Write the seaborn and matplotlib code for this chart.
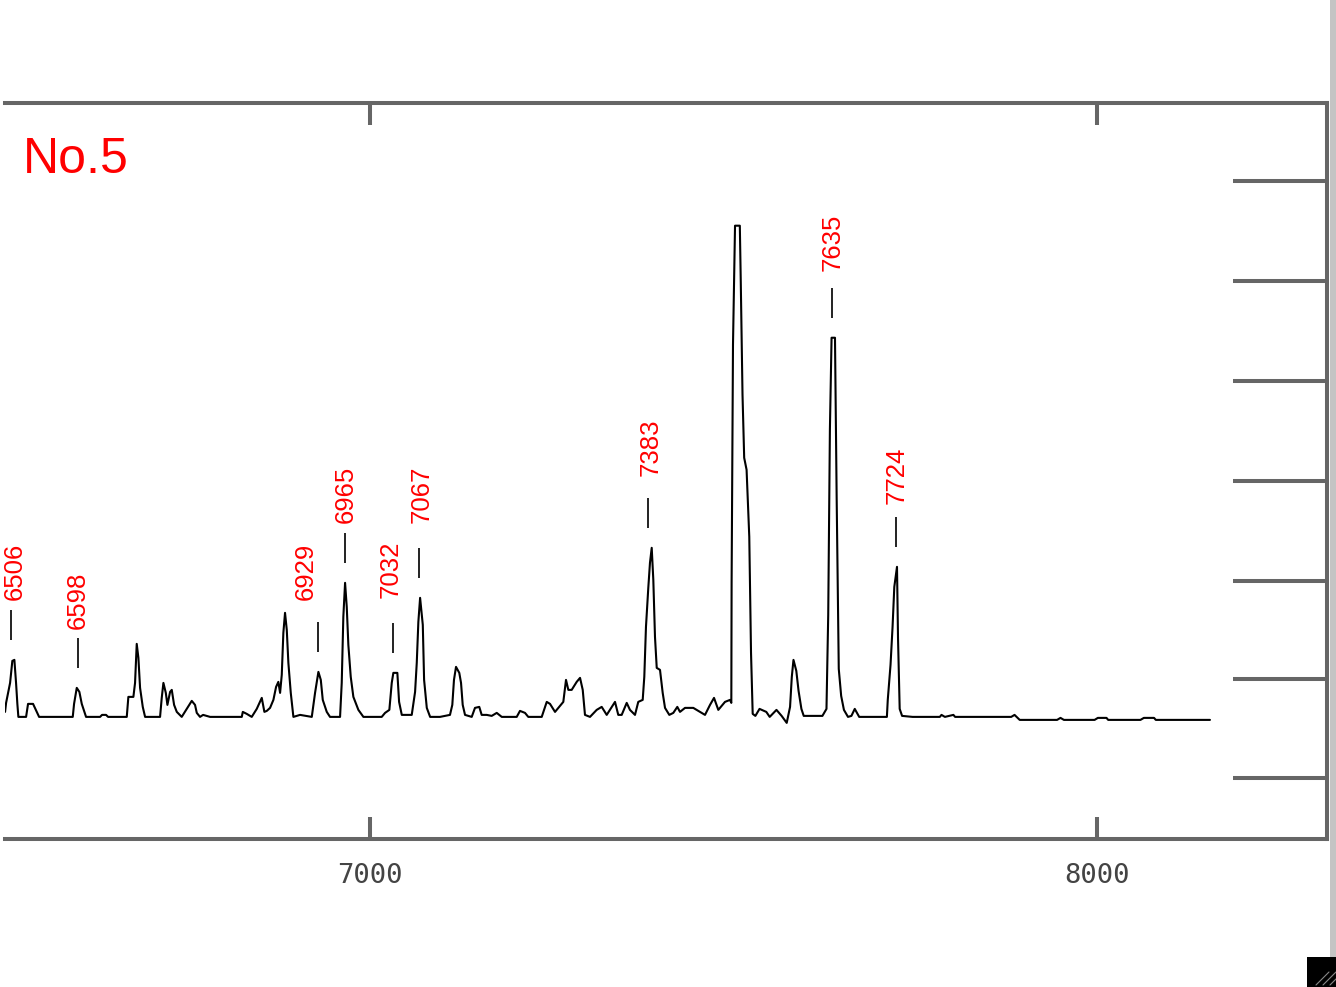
import pandas as pd
import seaborn as sns
import matplotlib.pyplot as plt
from matplotlib.patches import Rectangle
from matplotlib.lines import Line2D

# spectrum trace (mass, intensity in a.u.)
mass = [
    6498, 6499.4, 6504.9, 6508, 6510.8, 6513.1, 6514.9, 6516.3, 6526.9, 6529.6,
    6536.5, 6544.8, 6591.1, 6592.9, 6596.6, 6600.2, 6603.5, 6609.4, 6628.7, 6631.4,
    6636.9, 6639.7, 6665.4, 6667.6, 6674.5, 6676.8, 6679.1, 6681.4, 6683.7, 6687.4,
    6690.6, 6711.2, 6713.5, 6715.8, 6719.1, 6721.3, 6725, 6727.3, 6730.5, 6734.2,
    6741, 6747.9, 6754.8, 6759.3, 6761.7, 6766.2, 6770.4, 6780, 6823.6, 6825,
    6830.5, 6837.3, 6844.2, 6851.1, 6854.7, 6858, 6862.5, 6867.1, 6870.8, 6873.9,
    6876.3, 6878.6, 6880.8, 6883.1, 6885.5, 6887.7, 6891, 6894.6, 6903.8, 6919.9,
    6924.4, 6929, 6932.3, 6935, 6940.5, 6945, 6958.8, 6961.1, 6963.3, 6965.7,
    6968, 6970.2, 6973.5, 6977.1, 6984, 6990.9, 7016.1, 7020.7, 7026.6, 7029.9,
    7032.1, 7037.6, 7040, 7043.7, 7057.4, 7062, 7064.3, 7066.5, 7068.9, 7072.6,
    7074.4, 7078.1, 7082.7, 7096.3, 7110.0, 7113.2, 7115.5, 7118.3, 7122.8, 7125.2,
    7127.5, 7130.7, 7139.9, 7144.4, 7150.3, 7153.6, 7160.5, 7167.4, 7174.3, 7181.2,
    7201.8, 7206.3, 7213.2, 7217.7, 7236.2, 7243.1, 7247.6, 7254.5, 7265.9, 7269.6,
    7272.8, 7277.4, 7284.3, 7288.9, 7292.6, 7295.7, 7302.6, 7311.8, 7318.7, 7325.6,
    7337.0, 7341.5, 7346.2, 7353.1, 7357.6, 7364.5, 7369.0, 7375.1, 7377.3, 7379.6,
    7382.8, 7385.1, 7387.5, 7389.7, 7392.0, 7394.4, 7398.9, 7402.6, 7405.8, 7411.7,
    7417.2, 7422.7, 7426.4, 7433.3, 7444.7, 7453.9, 7460.8, 7467.7, 7473.2, 7479.1,
    7488.3, 7495.2, 7497.0, 7497.4, 7499.3, 7502.1, 7508.7, 7510.0, 7512.4, 7514.7,
    7518.0, 7521.7, 7524.1, 7526.4, 7530.1, 7535.8, 7545.1, 7549.8, 7559.1, 7566.2,
    7573.2, 7577.8, 7580.2, 7582.5, 7586.4, 7589.5, 7593.4, 7596.6, 7622.3, 7627.9,
    7630.3, 7632.6, 7634.9, 7639.6, 7641.9, 7644.8, 7648.1, 7651.9, 7657.5, 7662.2,
    7666.8, 7672.9, 7711.0, 7712.2, 7716.0, 7718.8, 7721.2, 7724.9, 7726.3, 7728.6,
    7731.9, 7746.3, 7783.8, 7786.1, 7790.8, 7802.5, 7804.8, 7882.0, 7886.6, 7893.7,
    7945.1, 7949.8, 7954.5, 7996.7, 8001.2, 8013.1, 8015.4, 8059.8, 8064.5, 8078.5,
    8080.9, 8155.4,
]
intensity = [
    5, 14, 34, 56, 57, 34, 13, 0, 0, 13,
    13, 0, 0, 13, 29, 25, 13, 0, 0, 2,
    2, 0, 0, 20, 20, 34, 73, 59, 29, 10,
    0, 0, 19, 34, 24, 12, 25, 27, 12, 5,
    0, 8, 16, 12, 4, 0, 2, 0, 0, 5,
    3, 0, 8, 19, 5, 6, 9, 17, 30, 35,
    24, 42, 84, 104, 87, 54, 24, 0, 2, 0,
    24, 45, 37, 17, 5, 0, 0, 34, 100, 134,
    110, 72, 40, 20, 7, 0, 0, 4, 7, 34,
    44, 44, 15, 2, 2, 25, 54, 95, 119, 92,
    37, 9, 0, 0, 2, 12, 37, 50, 44, 34,
    12, 2, 0, 9, 10, 2, 2, 1, 4, 0,
    0, 6, 4, 0, 0, 15, 13, 5, 15, 37,
    27, 27, 35, 39, 27, 2, 0, 7, 10, 2,
    15, 2, 2, 14, 7, 2, 15, 17, 40, 90,
    129, 154, 169, 137, 80, 49, 47, 24, 9, 2,
    4, 10, 5, 9, 9, 5, 2, 12, 19, 7,
    15, 17, 14, 134, 372, 491, 491, 435, 322, 259,
    247, 180, 64, 3, 1, 8, 5, 0, 7, 1,
    -6, 10, 40, 57, 46, 26, 8, 1, 1, 8,
    102, 287, 379, 379, 219, 48, 21, 7, 0, 1,
    8, 0, 0, 17, 52, 90, 130, 150, 79, 8,
    1, 0, 0, 2, 0, 2, 0, 0, 2, -3,
    -3, -1, -3, -3, -1, -1, -3, -3, -1, -1,
    -3, -3,
]

# labelled peaks
peak_labels = ["6506", "6598", "6929", "6965", "7032", "7067", "7383", "7635", "7724"]
peak_mass = [6506, 6598, 6929, 6965, 7032, 7067, 7383, 7635, 7724]
peak_height = [57, 29, 45, 134, 44, 119, 169, 379, 150]
label_x = [6511, 6598, 6912, 6966, 7029, 7071, 7386, 7637, 7725]
label_base = [117, 88, 117, 194, 119, 194, 241, 446, 213]

sns.set_style("white")
plt.rcParams['font.family'] = ['Liberation Sans', 'DejaVu Sans']

W, H = 1336, 987
fig = plt.figure(figsize=(W / 100, H / 100 + 0.004), dpi=100)
ax = fig.add_axes([5 / W, 148 / H, 1322 / W, 736 / H])

df = pd.DataFrame({"mass": mass, "intensity": intensity})
sns.lineplot(data=df, x="mass", y="intensity", ax=ax, color="black",
             lw=1.5, sort=False, estimator=None)

# little marker line above each labelled peak, then the label
ax.vlines(peak_mass, [h + 20 for h in peak_height], [h + 50 for h in peak_height],
          color="#222222", lw=1.4)
for txt, x, y in zip(peak_labels, label_x, label_base):
    ax.text(x, y, txt, rotation=90, ha="center", va="bottom",
            color="red", fontsize=18.5)

ax.set_xlim(6497.9, 8316.4)
ax.set_ylim(-122, 614)
ax.set_xlabel("")
ax.set_ylabel("")

spine_col = "#666666"
ax.spines["left"].set_visible(False)
for s in ["top", "bottom", "right"]:
    ax.spines[s].set_color(spine_col)
    ax.spines[s].set_linewidth(2.9)

ax.set_xticks([7000, 8000])
ax.tick_params(axis="x", direction="in", top=True, bottom=True, length=16,
               width=2.9, color=spine_col, labelsize=19.5, pad=17,
               labelcolor="#444444", labelfontfamily="DejaVu Sans Mono")

ax.yaxis.tick_right()
ax.set_yticks([-61, 38, 136, 236, 336, 436, 536])
ax.tick_params(axis="y", direction="in", left=False, right=True,
               labelleft=False, labelright=False, length=68, width=2.9,
               color=spine_col)

fig.text(23 / W, 1 - 173.3 / H, "No.5", color="red", fontsize=36,
         ha="left", va="baseline")

# window edge and resize grip
fig.add_artist(Rectangle((1330 / W, 0), 6 / W, 1, transform=fig.transFigure,
                         color="#c4c4c4", lw=0))
fig.add_artist(Rectangle((1307 / W, 0), 29 / W, 30 / H, transform=fig.transFigure,
                         color="black", lw=0))
for k in range(3):
    x0 = (1316 + k * 7) / W
    fig.add_artist(Line2D([x0, x0 + 13 / W], [2 / H, 15 / H],
                          transform=fig.transFigure, color="#888888", lw=0.8))

fig.savefig("out.png", dpi=100)
